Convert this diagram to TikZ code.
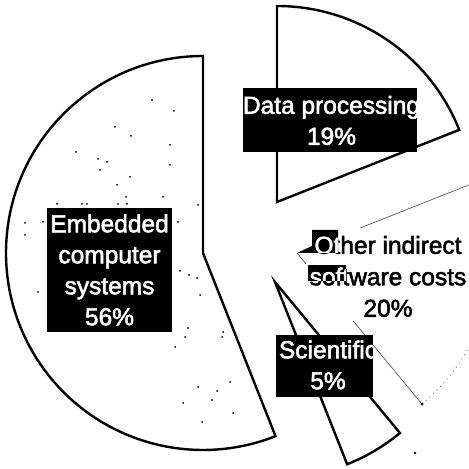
\documentclass[tikz,border=0pt]{standalone}
\usepackage{fontspec}
\setmainfont{Liberation Sans}
\newfontfamily\lblfont{Liberation Sans}[FakeBold=2.2]
\begin{document}
\begin{tikzpicture}[x=1pt,y=1pt,
  slice/.style={draw=black, line width=2.4pt, fill=white},
  faint/.style={draw=black!65, line width=0.7pt},
  lblbox/.style={rectangle, fill=black, draw=none, inner sep=0pt},
  lbltext/.style={text=white, align=center, inner sep=0pt,
                  font=\lblfont\fontsize{24.5pt}{31pt}\selectfont},
  plaintext/.style={text=black, align=center, inner sep=0pt,
                  font=\lblfont\fontsize{24.5pt}{31.5pt}\selectfont},
  speck/.style={fill=black}]
\useasboundingbox (0,0) rectangle (469,469);
\clip (0,0) rectangle (469,469);

% centres of the exploded slices
\coordinate (ec) at (203,216);
\coordinate (dc) at (277,267);
\coordinate (oc) at (297,216);
\coordinate (sc) at (275,187);

% solid slices
\draw[slice] (ec) -- ++(90:197) arc[start angle=90, end angle=291.6, radius=197] -- cycle;
\draw[slice] (dc) -- ++(90:196) arc[start angle=90, end angle=21.6, radius=196] -- cycle;
\draw[slice] (sc) -- ++(-68.4:196) arc[start angle=-68.4, end angle=-50.4, radius=196] -- cycle;

% faded slice: other indirect costs
\draw[faint] (oc) ++(21.6:68) -- ++(21.6:130);
\draw[faint] (oc) -- ++(-50.4:14);
\draw[faint] (oc) ++(-50.4:88) -- ++(-50.4:108);
\draw[faint, dash pattern=on 1pt off 4pt] (oc) ++(-50.4:196)
      arc[start angle=-50.4, end angle=21.6, radius=196];
\fill (oc) ++(-50.4:196) circle (1.6);
\fill (415,16) circle (1.3);

% specks inside the large slice
\foreach \px/\py in {152/100,174/111,115/127,131/136,170/145,76/152,98/159,107/162,
  170/165,100/170,130/177,117/185,163/197,126/197,198/205,25/223,25/235,43/222,
  178/222,57/204,82/204,87/204,118/204,127/204,38/292,180/271,189/275,197/278,
  200/295,188/328,185/337,175/347,223/332,222/337,230/382,198/387,217/391,
  212/400,183/403,233/413,202/422}
  \fill[speck] (\px,{469-\py}) circle (1);

% labels on black boxes
\node[lblbox, minimum width=125pt, minimum height=124pt] (embbox) at (109.5,199) {};
\begin{scope}
  \clip (embbox.south west) rectangle (embbox.north east);
  \node[lbltext] (embtext) at (109.5,199) {Embedded\\computer\\systems\\56\%};
\end{scope}

\node[lblbox, minimum width=174pt, minimum height=64pt] (dpbox) at (330,349) {};
\begin{scope}
  \clip (dpbox.south west) rectangle (dpbox.north east);
  \node[lbltext] (dptext) at (331.5,348.5) {Data processing\\19\%};
\end{scope}

\node[lblbox, minimum width=97pt, minimum height=62pt] (scbox) at (324.5,103) {};
\begin{scope}
  \clip (scbox.south west) rectangle (scbox.north east);
  \node[lbltext] (sctext) at (328,104) {Scientific\\5\%};
\end{scope}

% partly erased box behind the other-costs label
\fill (312,239) -- (338,239) -- (338,216) -- (297,216) -- (312,223) -- cycle;
\fill (308,204) rectangle (346,188);
\node[plaintext] (othertext) at (388,192.5) {Other indirect\\software costs\\20\%};
\begin{scope}
  \clip (312,239) -- (338,239) -- (338,216) -- (297,216) -- (312,223) -- cycle
        (308,204) rectangle (346,188);
  \node[plaintext, text=white] (otherinv) at (388,192.5) {Other indirect\\software costs\\20\%};
\end{scope}
\end{tikzpicture}
\end{document}
